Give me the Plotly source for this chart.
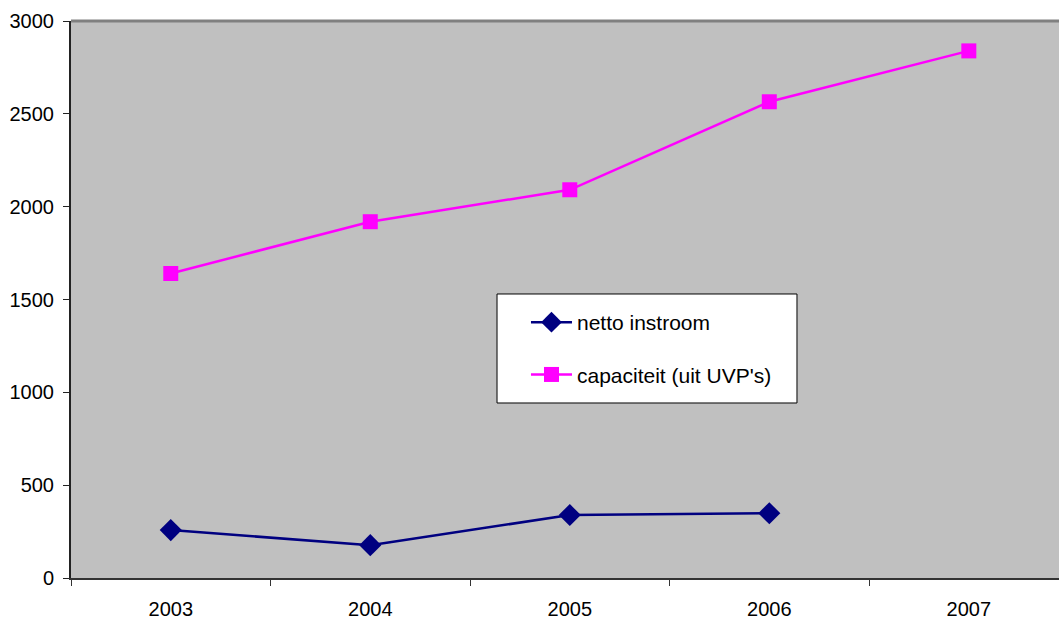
import plotly.graph_objects as go

# Years on the category axis
years = ["2003", "2004", "2005", "2006", "2007"]

# Net inflow (no figure for 2007)
netto_instroom = [258, 177, 339, 349, None]

# Capacity taken from the UVP's
capaciteit = [1640, 1919, 2091, 2565, 2839]

font_family = "Liberation Sans, Arial, sans-serif"

fig = go.Figure()

fig.add_trace(go.Scatter(
    x=years, y=netto_instroom, name="netto instroom",
    mode="lines+markers", legendgroup="a",
    line=dict(color="#000080", width=2.5),
    marker=dict(symbol="diamond", size=17, color="#000080"),
    connectgaps=False,
))

fig.add_trace(go.Scatter(
    x=years, y=capaciteit, name="capaciteit (uit UVP's)",
    mode="lines+markers", legendgroup="b",
    line=dict(color="#FF00FF", width=2.5),
    marker=dict(symbol="square", size=15, color="#FF00FF"),
))

fig.update_layout(
    width=1059, height=619,
    margin=dict(l=71, r=0, t=21, b=41),
    paper_bgcolor="white",
    plot_bgcolor="#C0C0C0",
    font=dict(family=font_family, size=20, color="black"),
    showlegend=True,
    legend=dict(
        x=0.4605, xanchor="left", y=0.4955, yanchor="top",
        bgcolor="rgba(0,0,0,0)", borderwidth=0,
        font=dict(size=21), itemwidth=41,
        tracegroupgap=22, traceorder="grouped",
    ),
    xaxis=dict(
        type="category", range=[-0.5, 4.452],
        tickson="boundaries", ticks="outside", ticklen=6,
        tickcolor="#333333", showgrid=False, zeroline=False,
        showline=True, linecolor="#333333", linewidth=2,
        ticklabelstandoff=12,
    ),
    yaxis=dict(
        range=[0, 3000], dtick=500, ticks="outside", ticklen=6,
        tickcolor="#222222", showgrid=False, zeroline=False,
        showline=True, linecolor="#222222", linewidth=2,
        ticklabelstandoff=5,
    ),
    shapes=[
        # grey frame line along the top of the plot area
        dict(type="line", xref="paper", yref="paper",
             x0=0, x1=1, y0=1, y1=1,
             line=dict(color="#808080", width=3)),
        # white legend panel
        dict(type="rect", xref="paper", yref="paper", layer="below",
             x0=0.4312, x1=0.7348, y0=0.3142, y1=0.5099,
             fillcolor="white", line=dict(color="black", width=1)),
    ],
)

fig.write_html("out.html")
